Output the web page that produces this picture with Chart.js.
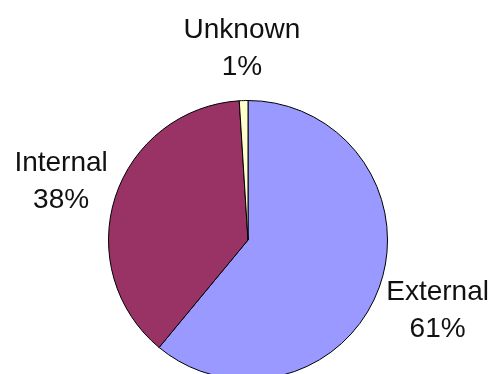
<!DOCTYPE html>
<html lang="en">
<head>
  <meta charset="UTF-8" />
  <title>Source of incidents</title>
  <style>
    body {
      margin: 0;
      background: #fff;
      overflow: hidden;
    }

    .wrap {
      width: 497px;
      height: 374px;
      overflow: hidden;
    }
  </style>
</head>
<body>
  <div class="wrap">
    <canvas id="pieChart" width="497" height="400"></canvas>
  </div>

  <script src="https://cdn.jsdelivr.net/npm/chart.js"></script>
  <script>
    const labels = ['External', 'Internal', 'Unknown'];
    const shares = [61, 38, 1];
    const colors = ['#9999ff', '#993366', '#ffffcc'];
    // distance of each label from the pie edge (px)
    const labelGap = [62, 57, 54];

    // labels outside the pie, two lines: name and percent
    const outsideLabels = {
      id: 'outsideLabels',
      afterDatasetsDraw(chart) {
        const ctx = chart.ctx;
        const meta = chart.getDatasetMeta(0);
        const total = shares.reduce((a, b) => a + b, 0);
        ctx.save();
        ctx.font = '28px "Liberation Sans", Arial, sans-serif';
        ctx.fillStyle = '#111';
        ctx.textAlign = 'center';
        ctx.textBaseline = 'alphabetic';
        meta.data.forEach((arc, i) => {
          const p = arc.getProps(['x', 'y', 'startAngle', 'endAngle', 'outerRadius'], true);
          const mid = (p.startAngle + p.endAngle) / 2;
          const d = p.outerRadius + labelGap[i];
          const x = p.x + Math.cos(mid) * d;
          const y = p.y + Math.sin(mid) * d;
          const pct = Math.round(shares[i] / total * 100) + '%';
          ctx.fillText(labels[i], x, y - 8.5);
          ctx.fillText(pct, x, y + 28.5);
        });
        ctx.restore();
      }
    };

    new Chart(document.getElementById('pieChart'), {
      type: 'pie',
      data: {
        labels: labels,
        datasets: [{
          data: shares,
          backgroundColor: colors,
          borderColor: '#000',
          borderWidth: 1
        }]
      },
      options: {
        responsive: false,
        animation: false,
        layout: {
          padding: { left: 108, right: 109, top: 100, bottom: 20 }
        },
        plugins: {
          legend: { display: false },
          tooltip: { enabled: false }
        }
      },
      plugins: [outsideLabels]
    });
  </script>
</body>
</html>
